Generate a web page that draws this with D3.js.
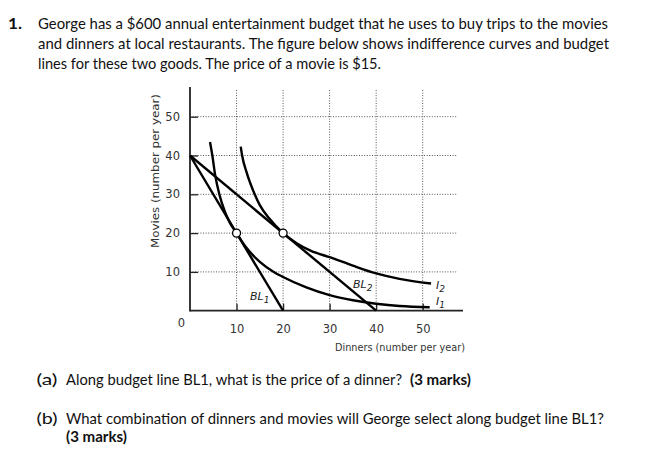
<!DOCTYPE html>
<html><head><meta charset="utf-8">
<script src="https://cdn.jsdelivr.net/npm/d3@7"></script>
<style>body{margin:0;background:#fff}svg{display:block}</style>
</head><body>
<svg id="c" width="651" height="454"></svg>
<script>
// ---- data ----
const xTicks = [10, 20, 30, 40, 50];
const yTicks = [10, 20, 30, 40, 50];
const bl1 = [[0, 40], [20, 0]];
const bl2 = [[0, 40], [40, 0]];
const i1 = [[4.3,43.5],[4.8,40],[5.4,35],[6.3,30],[7.5,25.5],[8.5,22.8],[10,20],[12,16.4],[15,12.6],[18,10],[20,8.7],[25,6],[30,4],[35,2.7],[40,1.8],[45,1.2],[51.5,0.9]];
const i2 = [[10.9,42.3],[11.2,40],[12.2,35.5],[13.9,30],[15,27.2],[17,23.8],[20,20],[23,17.3],[26,15.4],[30,13.8],[35,11.6],[40,9.6],[45,8.2],[51.8,7]];
const optima = [[10, 20], [20, 20]];
const heading = [
  "George has a $600 annual entertainment budget that he uses to buy trips to the movies",
  "and dinners at local restaurants. The figure below shows indifference curves and budget",
  "lines for these two goods. The price of a movie is $15."
];

const svg = d3.select("#c");
const x = d3.scaleLinear().domain([0, 50]).range([190, 422.7]);
const y = d3.scaleLinear().domain([0, 50]).range([310.7, 116.7]);
const bodyFont = "Lato, 'Open Sans', sans-serif";
const chartFont = "'DejaVu Sans', sans-serif";
const FS = 16;

function txt(xx, yy, s, w, bold, fs) {
  const t = svg.append("text").attr("x", xx).attr("y", yy).attr("font-family", bodyFont)
    .attr("font-size", fs || FS).attr("fill", "#111").attr("font-weight", bold ? "bold" : "normal").text(s);
  if (w) t.attr("textLength", w).attr("lengthAdjust", "spacingAndGlyphs");
  return t;
}

// heading
txt(8, 29, "1.", 14, true);
const hw = [570, 571, 343];
heading.forEach((t, i) => txt(38, 29 + i * 20, t, hw[i], false));

// grid
const g = svg.append("g");
g.selectAll("line.h").data(yTicks).join("line")
  .attr("x1", x(0)).attr("x2", 457).attr("y1", d => y(d)).attr("y2", d => y(d))
  .attr("stroke", "#555").attr("stroke-width", 1).attr("stroke-dasharray", "1,1.6");
g.selectAll("line.v").data(xTicks).join("line")
  .attr("y1", 90).attr("y2", y(0)).attr("x1", d => x(d)).attr("x2", d => x(d))
  .attr("stroke", "#555").attr("stroke-width", 1).attr("stroke-dasharray", "1,1.6");

// axes
const ax = d3.axisBottom(x).tickValues(xTicks).tickSizeInner(-7).tickSizeOuter(0).tickPadding(14);
const ay = d3.axisLeft(y).tickValues(yTicks).tickSizeInner(-8).tickSizeOuter(0).tickPadding(10);
const gx = svg.append("g").attr("transform", `translate(0,${y(0)})`).call(ax);
const gy = svg.append("g").attr("transform", `translate(${x(0)},0)`).call(ay);
[gx, gy].forEach(a => {
  a.select(".domain").remove();
  a.selectAll(".tick line").attr("stroke", "#222").attr("stroke-width", 1.3);
  a.selectAll(".tick text").attr("font-family", chartFont).attr("font-size", 11.5).attr("fill", "#333");
});
svg.append("line").attr("x1", x(0)).attr("x2", 463).attr("y1", y(0)).attr("y2", y(0))
  .attr("stroke", "#222").attr("stroke-width", 1.8);
svg.append("line").attr("x1", x(0)).attr("x2", x(0)).attr("y1", 87).attr("y2", y(0) + 0.9)
  .attr("stroke", "#222").attr("stroke-width", 1.8);
svg.append("text").attr("x", 181.5).attr("y", 327).attr("text-anchor", "middle")
  .attr("font-family", chartFont).attr("font-size", 11.5).attr("fill", "#333").text("0");

// axis titles
svg.append("text").attr("x", 465).attr("y", 351).attr("text-anchor", "end")
  .attr("font-family", chartFont).attr("font-size", 10.5).attr("fill", "#333")
  .attr("textLength", 130).attr("lengthAdjust", "spacingAndGlyphs").text("Dinners (number per year)");
svg.append("text").attr("transform", "translate(159,171) rotate(-90)").attr("text-anchor", "middle")
  .attr("font-family", chartFont).attr("font-size", 10.5).attr("fill", "#333")
  .attr("textLength", 154).attr("lengthAdjust", "spacingAndGlyphs").text("Movies (number per year)");

// lines
const line = d3.line().x(d => x(d[0])).y(d => y(d[1]));
const curve = d3.line().x(d => x(d[0])).y(d => y(d[1])).curve(d3.curveMonotoneX);
[bl1, bl2].forEach(d => svg.append("path").attr("d", line(d)).attr("fill", "none")
  .attr("stroke", "#000").attr("stroke-width", 2.4));
[i1, i2].forEach(d => svg.append("path").attr("d", curve(d)).attr("fill", "none")
  .attr("stroke", "#000").attr("stroke-width", 2.4));
svg.selectAll("circle.opt").data(optima).join("circle")
  .attr("cx", d => x(d[0])).attr("cy", d => y(d[1])).attr("r", 4)
  .attr("fill", "#fff").attr("stroke", "#000").attr("stroke-width", 1.3);

// curve labels
function lab(tx, ty, main, sub) {
  const t = svg.append("text").attr("x", tx).attr("y", ty).attr("font-family", chartFont)
    .attr("font-size", 11).attr("fill", "#222").attr("font-style", "italic");
  t.append("tspan").text(main);
  t.append("tspan").attr("dy", 3).attr("font-size", 9).text(sub);
}
lab(250, 300, "BL", "1");
lab(353, 288, "BL", "2");
lab(436, 289, "I", "2");
lab(436, 305, "I", "1");

// questions
txt(36.5, 384.5, "(a)", 21, false);
txt(66, 384.5, "Along budget line BL1, what is the price of a dinner?", 336, false, 14.5);
txt(410, 384.5, "(3 marks)", 61, true);
txt(36.5, 423.5, "(b)", 21, false);
txt(66, 423.5, "What combination of dinners and movies will George select along budget line BL1?", 538, false);
txt(66, 442, "(3 marks)", 61, true);
</script>
</body></html>
